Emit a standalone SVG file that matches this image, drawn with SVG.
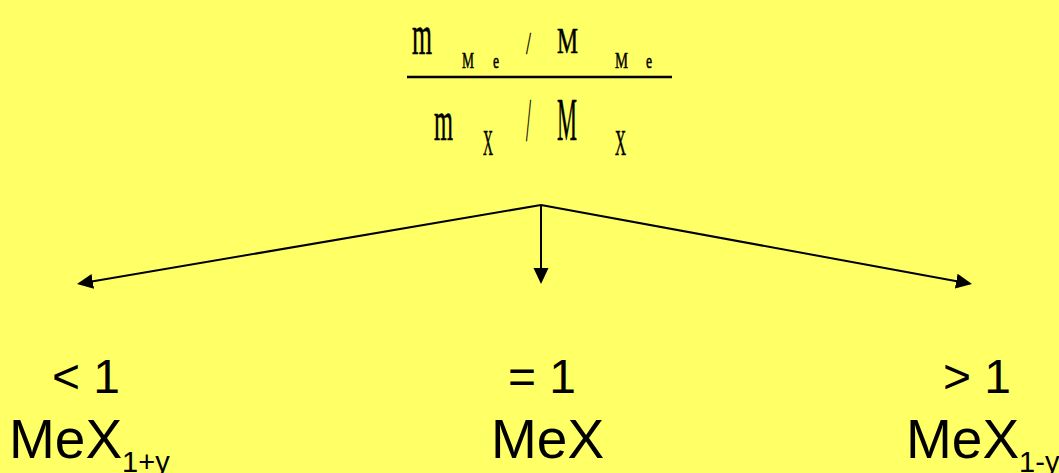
<svg xmlns="http://www.w3.org/2000/svg" width="1059" height="473" viewBox="0 0 1059 473">
<defs>
<style>
.eq{font-family:"Liberation Serif",serif;fill:#000;stroke:#000;stroke-width:0.6}
.sl{font-family:"Liberation Serif",serif;fill:#000;stroke:#000;stroke-width:0.3}
.lbl{font-family:"Liberation Sans",Arial,sans-serif;fill:#000}
.conn{stroke:#000;stroke-width:2;fill:none}
</style>
<marker id="ah" markerUnits="userSpaceOnUse" markerWidth="17" markerHeight="16" refX="13" refY="7.5" orient="auto">
<path d="M0,0 L16,7.5 L0,15 z" fill="#000"/>
</marker>
</defs>
<rect width="1059" height="473" fill="#FFFF66"/>
<g id="fraction">
<text class="eq" x="412" y="54" font-size="58" textLength="20" lengthAdjust="spacingAndGlyphs">m</text>
<text class="eq" x="462" y="68" font-size="24" textLength="12" lengthAdjust="spacingAndGlyphs">M</text>
<text class="eq" x="493" y="68" font-size="22" textLength="6" lengthAdjust="spacingAndGlyphs">e</text>
<text class="sl" x="526" y="54" font-size="32" textLength="5" lengthAdjust="spacingAndGlyphs">/</text>
<text class="eq" x="557" y="53" font-size="35" textLength="21" lengthAdjust="spacingAndGlyphs">M</text>
<text class="eq" x="615" y="68" font-size="24" textLength="13" lengthAdjust="spacingAndGlyphs">M</text>
<text class="eq" x="646" y="68" font-size="22" textLength="6" lengthAdjust="spacingAndGlyphs">e</text>
<line x1="407" y1="77" x2="672" y2="77" stroke="#000" stroke-width="2.5"/>
<text class="eq" x="434" y="140" font-size="58" textLength="19" lengthAdjust="spacingAndGlyphs">m</text>
<text class="eq" x="483" y="155" font-size="35" textLength="10" lengthAdjust="spacingAndGlyphs">X</text>
<text class="sl" x="526" y="140" font-size="61" textLength="5" lengthAdjust="spacingAndGlyphs">/</text>
<text class="eq" x="557" y="140" font-size="62" textLength="20" lengthAdjust="spacingAndGlyphs">M</text>
<text class="eq" x="615" y="155" font-size="35" textLength="11" lengthAdjust="spacingAndGlyphs">X</text>
</g>
<g id="connectors">
<line class="conn" x1="541" y1="205" x2="79.96" y2="283.5" marker-end="url(#ah)"/>
<line class="conn" x1="541" y1="205" x2="541" y2="281" marker-end="url(#ah)"/>
<line class="conn" x1="541" y1="205" x2="969.05" y2="283.46" marker-end="url(#ah)"/>
</g>
<g id="node-less">
<text class="lbl" x="52" y="393" font-size="48">&lt; 1</text>
<text class="lbl" x="9" y="458" font-size="55">MeX<tspan font-size="29" y="472">1+y</tspan></text>
</g>
<g id="node-equal">
<text class="lbl" x="508" y="393" font-size="48">= 1</text>
<text class="lbl" x="491" y="458" font-size="55">MeX</text>
</g>
<g id="node-greater">
<text class="lbl" x="943" y="393" font-size="48">&gt; 1</text>
<text class="lbl" x="906" y="458" font-size="55">MeX<tspan font-size="29" y="472">1-y</tspan></text>
</g>
</svg>
